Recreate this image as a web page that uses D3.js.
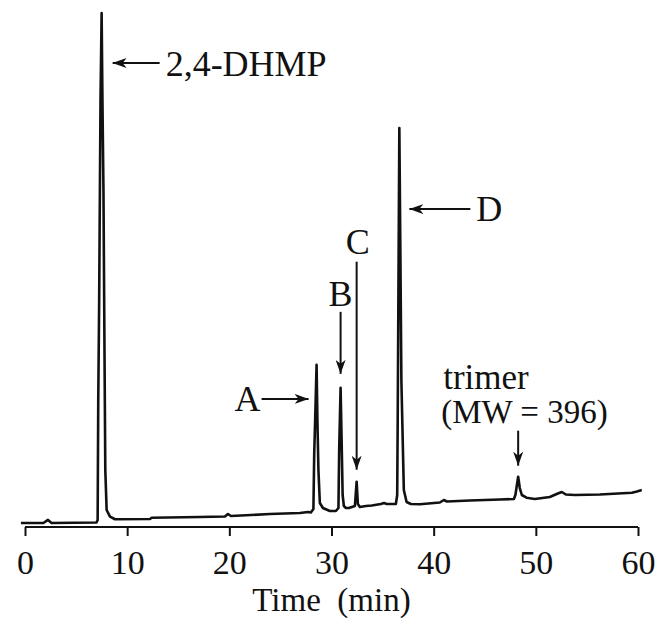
<!DOCTYPE html>
<html>
<head>
<meta charset="utf-8">
<script src="https://cdn.jsdelivr.net/npm/d3@7"></script>
<style>
  html, body { margin: 0; padding: 0; background: #fff; }
  svg { display: block; }
  text { font-family: "Liberation Serif", "Times New Roman", serif; fill: #111; }
</style>
</head>
<body>
<div id="chart"></div>
<script>
// Chromatogram trace: retention time (min) and detector response (arbitrary units)
const time = [
  -0.4, 1.8, 2.25, 2.6, 7.0, 7.11, 7.17, 7.26, 7.39, 7.50, 7.58, 7.68, 7.78, 7.86, 7.99, 8.32, 8.81,
  12.23, 12.4, 17.1, 19.57, 19.86, 20.16, 23.97, 26.9, 27.7, 27.98,
  28.23, 28.31, 28.40, 28.54, 28.62, 28.72, 28.86, 29.16, 29.84, 30.43, 30.68,
  30.75, 30.89, 30.99, 31.09, 31.21, 31.41, 31.7,
  32.29, 32.46, 32.58, 32.78, 33.37, 33.95, 34.83, 35.13, 35.42, 36.3,
  36.43, 36.48, 36.64, 36.74, 36.84, 36.97, 37.08, 37.35, 37.77, 38.65,
  40.6, 41.0, 41.3, 43.54, 46.48, 47.85, 48.0, 48.27, 48.43, 48.63, 49.09, 49.9,
  51.37, 52.15, 52.54, 52.94, 53.82, 56.26, 59.4, 59.9, 60.37
];
const signal = [
  0, 0, 0.6, 0, 0.1, 0.59, 24.1, 43.7, 82.9, 100, 82.9, 65.3, 33.9, 10.4, 2.55, 1.24, 0.73,
  0.78, 1.04, 1.18, 1.27, 1.76, 1.37, 1.76, 1.96, 2.16, 2.06,
  2.75, 13.7, 20.2, 31.0, 20.2, 10.4, 3.92, 2.94, 2.35, 2.35, 2.94,
  14.3, 26.5, 16.3, 5.49, 3.33, 2.94, 2.94,
  3.33, 8.1, 3.73, 3.14, 3.33, 3.43, 3.73, 3.92, 3.73, 3.73,
  5.49, 20.2, 77.45, 53.5, 28.0, 16.3, 6.47, 4.12, 3.73, 3.67,
  4.02, 4.51, 4.22, 4.41, 4.61, 4.71, 5.49, 9.08, 6.86, 5.49, 4.96, 4.71,
  5.1, 5.78, 6.08, 5.59, 5.49, 5.59, 5.94, 6.18, 6.47
];

// Labelled peaks
const peakNames = ["2,4-DHMP", "A", "B", "C", "D", "trimer"];
const peakTimes = [7.50, 28.54, 30.89, 32.46, 36.64, 48.27];
const peakHeights = [100, 31.0, 26.5, 8.1, 77.45, 9.08];

// Axis ticks
const tickValues = [0, 10, 20, 30, 40, 50, 60];
const xTitle = "Time  (min)";
const trimerNote = "(MW = 396)";

const W = 657, H = 619;
const svg = d3.select("#chart").append("svg").attr("width", W).attr("height", H);

const x = d3.scaleLinear().domain([0, 60]).range([25, 638]);
const y = d3.scaleLinear().domain([0, 100]).range([523, 13]);
const axisY = 527;

// arrowhead marker
svg.append("defs").append("marker")
  .attr("id", "head")
  .attr("viewBox", "0 0 14 10")
  .attr("refX", 14).attr("refY", 5)
  .attr("markerWidth", 14).attr("markerHeight", 10)
  .attr("markerUnits", "userSpaceOnUse")
  .attr("orient", "auto")
  .append("path").attr("d", "M0,0 L14,5 L0,10 L4,5 Z").attr("fill", "#111");

// x axis
const axis = d3.axisBottom(x).tickValues(tickValues).tickSize(9).tickPadding(14).tickFormat(d3.format("d"));
const gx = svg.append("g").attr("transform", `translate(0,${axisY})`).call(axis);
gx.select(".domain").attr("d", `M${x(0)},0H${x(60)}`).attr("stroke", "#111").attr("stroke-width", 2);
gx.selectAll(".tick line").attr("stroke", "#111").attr("stroke-width", 2);
gx.selectAll(".tick text")
  .style("font-family", '"Liberation Serif", serif')
  .style("font-size", "34px").attr("fill", "#111");

svg.append("text")
  .attr("x", x(30)).attr("y", 611)
  .attr("text-anchor", "middle")
  .style("font-size", "33px")
  .style("white-space", "pre")
  .attr("xml:space", "preserve")
  .text(xTitle);

// trace
const pts = time.map((t, i) => [t, signal[i]]);
svg.append("path")
  .datum(pts)
  .attr("d", d3.line().x(d => x(d[0])).y(d => y(d[1])))
  .attr("fill", "none")
  .attr("stroke", "#111")
  .attr("stroke-width", 2.6)
  .attr("stroke-linejoin", "round");

// annotations
const ann = svg.append("g").style("font-size", "36px");
function arrow(x1, y1, x2, y2) {
  ann.append("line")
    .attr("x1", x1).attr("y1", y1).attr("x2", x2).attr("y2", y2)
    .attr("stroke", "#111").attr("stroke-width", 2)
    .attr("marker-end", "url(#head)");
}

// 2,4-DHMP: arrow pointing left at the main peak
{
  const px = x(peakTimes[0]), py = y(peakHeights[0]);
  arrow(px + 58, py + 50, px + 11, py + 50);
  ann.append("text").attr("x", px + 64).attr("y", py + 63).text(peakNames[0]);
}
// A: arrow pointing right
{
  const px = x(peakTimes[1]), py = y(peakHeights[1]);
  arrow(px - 55, py + 34, px - 8, py + 34);
  ann.append("text").attr("x", px - 56).attr("y", py + 46).attr("text-anchor", "end").text(peakNames[1]);
}
// B: arrow pointing down
{
  const px = x(peakTimes[2]), py = y(peakHeights[2]);
  arrow(px, py - 76, px, py - 14);
  ann.append("text").attr("x", px).attr("y", py - 82).attr("text-anchor", "middle").text(peakNames[2]);
}
// C: long arrow pointing down
{
  const px = x(peakTimes[3]), py = y(peakHeights[3]);
  arrow(px, py - 220, px, py - 12);
  ann.append("text").attr("x", px + 1).attr("y", py - 228).attr("text-anchor", "middle").text(peakNames[3]);
}
// D: arrow pointing left
{
  const px = x(peakTimes[4]), py = y(peakHeights[4]);
  arrow(px + 71, py + 81, px + 10, py + 81);
  ann.append("text").attr("x", px + 77).attr("y", py + 93).text(peakNames[4]);
}
// trimer: arrow pointing down, two-line label
{
  const px = x(peakTimes[5]), py = y(peakHeights[5]);
  arrow(px, py - 46, px, py - 11);
  ann.append("text").attr("x", px - 75).attr("y", py - 88).style("font-size", "35px").text(peakNames[5]);
  ann.append("text").attr("x", px - 77).attr("y", py - 54).style("font-size", "33px").text(trimerNote);
}
</script>
</body>
</html>
